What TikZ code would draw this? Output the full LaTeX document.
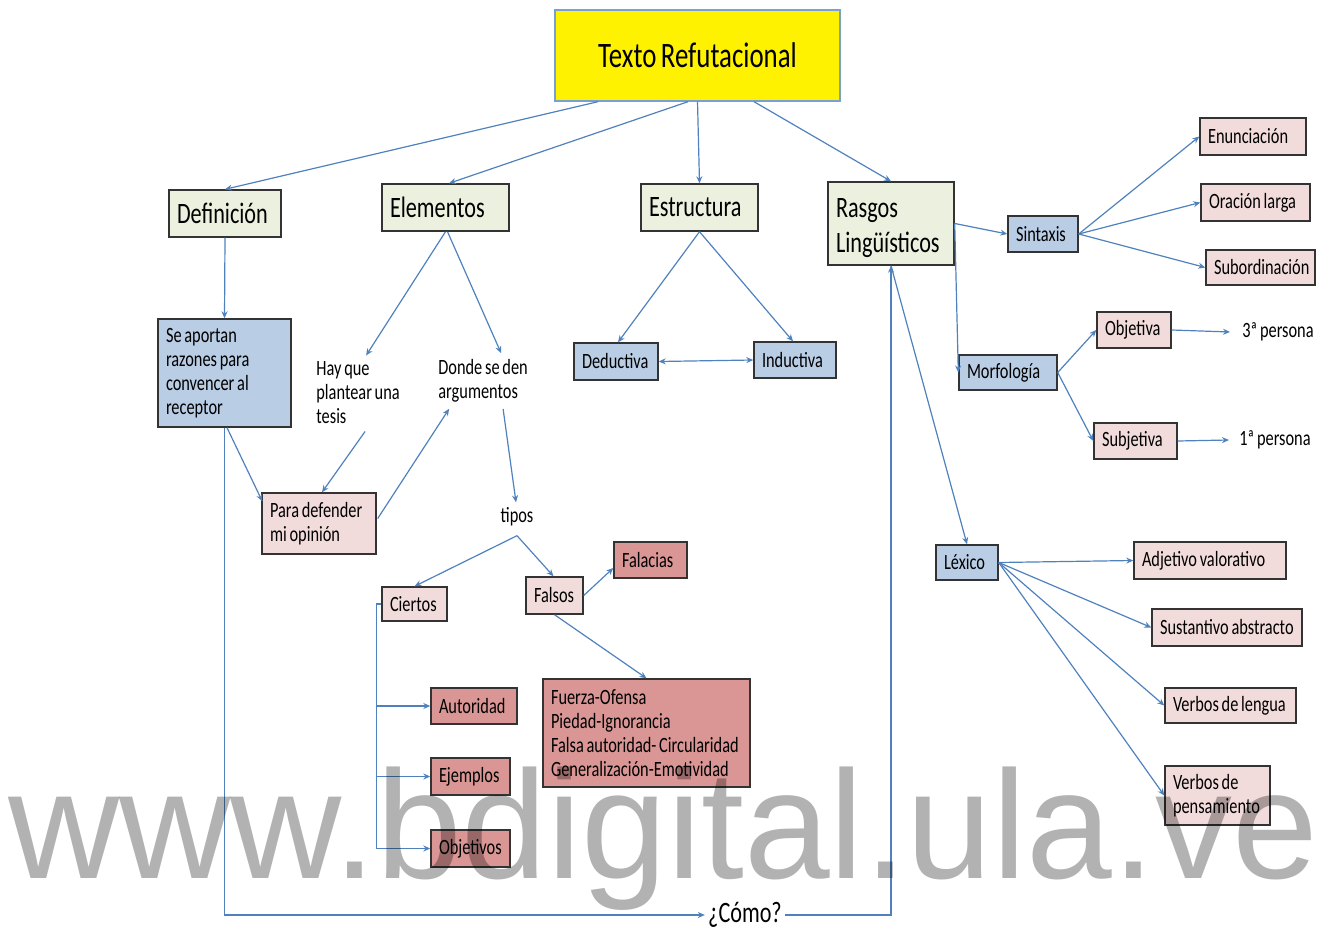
\documentclass[tikz,border=0pt]{standalone}
\usepackage{fontspec}
\setmainfont{Carlito}[FakeStretch=0.75, WordSpace=0.75]
\newfontfamily\wmfont{Liberation Sans}
\usetikzlibrary{arrows.meta,calc}

\definecolor{lineblue}{RGB}{79,129,189}
\definecolor{titleline}{RGB}{120,160,210}
\definecolor{boxolive}{RGB}{235,241,222}
\definecolor{boxblue}{RGB}{185,205,229}
\definecolor{boxpink}{RGB}{242,220,219}
\definecolor{boxred}{RGB}{217,150,148}

\newcommand{\titlefont}{\fontsize{17.9}{21}\selectfont}
\newcommand{\headfont}{\fontsize{14.8}{17.5}\selectfont}
\newcommand{\itemfont}{\fontsize{10.9}{12}\selectfont}

\tikzset{
	box/.style={draw=black!80, line width=0.7pt, inner xsep=4pt, inner ysep=1pt, align=flush left, font=\itemfont},
	headbox/.style={box, fill=boxolive, font=\headfont},
	bluebox/.style={box, fill=boxblue},
	pinkbox/.style={box, fill=boxpink},
	redbox/.style={box, fill=boxred},
	txt/.style={inner sep=1.5pt, align=flush left, font=\itemfont},
	wire/.style={draw=lineblue, line width=0.6pt},
	conn/.style={wire, >={Stealth[length=3.5pt,width=3pt]}, ->},
}

\begin{document}
\begin{tikzpicture}[x=0.5pt, y=-0.5pt]
		\useasboundingbox (0,0) rectangle (1325,930);
		
		%title
		\node (title) at (697.5,55.5) [draw=titleline, line width=0.7pt, fill=yellow, minimum width=142.5pt, minimum height=45.5pt, font=\titlefont]{Texto Refutacional};
		
		%first level
		\node (defin) at (225,213.5) [headbox, text width=48pt, minimum height=23.5pt]{Definición};
		\node (elem) at (445.5,207.5) [headbox, text width=55.5pt, minimum height=23.5pt]{Elementos};
		\node (estr) at (699.5,207.5) [headbox, text width=50.5pt, minimum height=23.5pt]{Estructura};
		\node (rasgos) at (891,223.5) [headbox, text width=55pt, minimum height=41.5pt]{\rule{0pt}{14pt}Rasgos\\Lingüísticos};
		
		%definicion and elementos
		\node (aportan) at (224.5,373) [bluebox, text width=58.5pt, minimum height=54pt]{Se aportan\\razones para\\convencer al\\receptor};
		\node (hayque) at (313,393) [txt, anchor=west]{Hay que\\plantear una\\tesis};
		\node (donde) at (435,381) [txt, anchor=west]{Donde se den\\argumentos};
		\node (para) at (319,523.5) [pinkbox, text width=49pt, minimum height=30.5pt]{Para defender\\mi opinión};
		\node (tipos) at (517,517) [txt]{tipos};
		\coordinate (tiposbase) at ($(tipos.south)+(0,6)$);
		\node (ciertos) at (414.5,604) [pinkbox, text width=24.5pt, minimum height=17pt]{Ciertos};
		\node (falsos) at (554.5,595.5) [pinkbox, text width=20.5pt, minimum height=18.5pt]{Falsos};
		\node (falacias) at (650.5,560) [redbox, text width=28.5pt, minimum height=18pt]{Falacias};
		\node (fuerza) at (646.5,733) [redbox, text width=95.5pt, minimum height=54pt]{Fuerza-Ofensa\\Piedad-Ignorancia\\Falsa autoridad- Circularidad\\Generalización-Emotividad};
		\node (autoridad) at (474,706) [redbox, text width=35pt, minimum height=18pt]{Autoridad};
		\node (ejemplos) at (470.5,776.5) [redbox, text width=31.5pt, minimum height=18.5pt]{Ejemplos};
		\node (objetivos) at (470.5,848.5) [redbox, text width=31.5pt, minimum height=18.5pt]{Objetivos};
		\node (como) at (745,915) [txt, font=\headfont]{¿Cómo?};
		
		%estructura
		\node (deduct) at (616,361.5) [bluebox, text width=34pt, minimum height=18.5pt]{Deductiva};
		\node (induct) at (795,360) [bluebox, text width=33pt, minimum height=18pt]{Inductiva};
		
		%rasgos linguisticos
		\node (sintaxis) at (1043,234) [bluebox, text width=27pt, minimum height=18pt]{Sintaxis};
		\node (enunc) at (1253,136.5) [pinkbox, text width=45pt, minimum height=18.5pt]{Enunciación};
		\node (oracion) at (1255.5,202.5) [pinkbox, text width=46.5pt, minimum height=18.5pt]{Oración larga};
		\node (subord) at (1260.5,267.5) [pinkbox, text width=46.5pt, minimum height=17.5pt]{Subordinación};
		\node (morfo) at (1008,372.5) [bluebox, text width=41pt, minimum height=17.5pt]{Morfología};
		\node (objetiva) at (1134,330) [pinkbox, text width=29pt, minimum height=18pt]{Objetiva};
		\node (subjetiva) at (1135.5,441) [pinkbox, text width=33.5pt, minimum height=18pt]{Subjetiva};
		\node (tercera) at (1278,332) [txt]{3ª persona};
		\node (primera) at (1275,440) [txt]{1ª persona};
		\node (lexico) at (967,562.5) [bluebox, text width=23pt, minimum height=17.5pt]{Léxico};
		\node (adjetivo) at (1210,560.5) [pinkbox, text width=68pt, minimum height=18.5pt]{Adjetivo valorativo};
		\node (sustantivo) at (1227,627.5) [pinkbox, text width=67pt, minimum height=18.5pt]{Sustantivo abstracto};
		\node (vlengua) at (1230.5,705.5) [pinkbox, text width=57.5pt, minimum height=17.5pt]{Verbos de lengua};
		\node (vpens) at (1217.5,795.5) [pinkbox, text width=44.5pt, minimum height=29.5pt]{Verbos de\\pensamiento};
		
		%connectors
		\draw[conn] ($(title.south)+(-99.5,0)$) -- (defin.north);
		\draw[conn] ($(title.south)+(-9.5,0)$) -- ($(elem.north)+(3.5,0)$);
		\draw[conn] (title.south) -- (estr.north);
		\draw[conn] ($(title.south)+(56.5,0)$) -- (rasgos.north);
		
		\draw[conn] (defin.south) -- (aportan.north);
		\draw[conn] (elem.south) -- ($(hayque.north)+(8,-3)$);
		\draw[conn] ($(elem.south)+(2,0)$) -- ($(donde.north)+(18,-3)$);
		\draw[conn] ($(aportan.south)+(2.5,0)$) -- ($(para.north west)+(1,9)$);
		\draw[conn] ($(hayque.south)+(7,4)$) -- ($(para.north)+(3,0)$);
		\draw[conn] ($(para.east)+(1,-5)$) -- ($(donde.south)+(-34,3)$);
		\draw[conn] ($(donde.south)+(20,3)$) -- ($(tipos.north)+(-1,-2)$);
		\draw[conn] (tiposbase) -- (ciertos.north);
		\draw[conn] (tiposbase) -- ($(falsos.north)+(-1,0)$);
		\draw[conn] (falsos.east) -- ($(falacias.west)+(0,8)$);
		\draw[conn] (falsos.south) -- (fuerza.north);
		\coordinate (trunk) at ($(ciertos.west)+(-5,0)$);
		\draw[wire] (ciertos.west) -- (trunk);
		\foreach \n in {autoridad, ejemplos, objetivos}{
			\draw[conn] (trunk) |- (\n.west);
		}
		
		\draw[conn] (aportan.south) |- (como.west);
		\draw[conn] (como.east) -| (rasgos.south);
		
		\draw[conn] (estr.south) -- ($(deduct.north)+(2,0)$);
		\draw[conn] (estr.south) -- ($(induct.north)+(-2,0)$);
		\draw[conn, <->] (deduct.east) -- (induct.west);
		
		\draw[conn] (rasgos.east) -- (sintaxis.west);
		\draw[conn] (rasgos.east) -- (morfo.west);
		\draw[conn] (rasgos.south) -- (lexico.north);
		\foreach \n in {enunc, oracion, subord}{
			\draw[conn] (sintaxis.east) -- (\n.west);
		}
		\foreach \n in {objetiva, subjetiva}{
			\draw[conn] (morfo.east) -- (\n.west);
		}
		\draw[conn] (objetiva.east) -- ($(tercera.west)+(-9,0)$);
		\draw[conn] (subjetiva.east) -- ($(primera.west)+(-7,0)$);
		\foreach \n in {adjetivo, sustantivo, vlengua, vpens}{
			\draw[conn] (lexico.east) -- (\n.west);
		}
		
		%watermark
		\node (marca) at (8,878) [anchor=base west, inner sep=0pt, font=\wmfont\fontsize{77}{80}\selectfont, text=black, text opacity=0.3]{www.bdigital.ula.ve};
\end{tikzpicture}
\end{document}
